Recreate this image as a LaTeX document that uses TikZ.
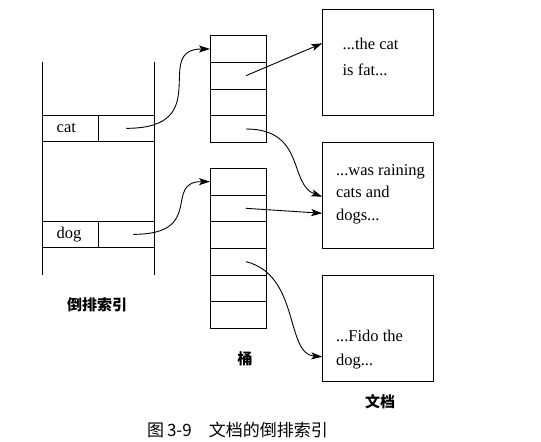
\documentclass[tikz,border=0pt]{standalone}
\usepackage{fontspec}
\setmainfont{Liberation Serif}
\newfontfamily\cjk{Noto Sans CJK SC}
\usetikzlibrary{arrows.meta,positioning}

\begin{document}
\begin{tikzpicture}[x=1bp,y=-1bp,>={Stealth[length=11bp,width=7bp,inset=2.5bp]},line width=0.9bp,
    cell/.style={draw,minimum width=56bp,minimum height=26.67bp,inner sep=0pt,outer sep=0pt},
    keycell/.style={draw,minimum width=55.6bp,minimum height=26.67bp,text width=27.6bp,
      inner xsep=14bp,inner ysep=0pt,outer sep=0pt,align=left,text height=8bp,text depth=0pt,
      font=\fontsize{16.5bp}{19bp}\selectfont},
    doc/.style={draw,minimum width=111bp,minimum height=106bp,inner sep=0pt,outer sep=0pt},
    doctext/.style={anchor=base west,inner sep=0pt,align=left},
    cjklabel/.style={font=\cjk\bfseries\fontsize{15bp}{15bp}\selectfont,inner sep=0pt}]
  \useasboundingbox (0,0) rectangle (541,442);

  % inverted index
  \draw (42.7,61.7) -- (42.7,275);
  \draw (154.3,61.7) -- (154.3,275);
  \node[keycell] (cat) at (70.5,128.35) {cat};
  \node[cell,right=0pt of cat] (catptr) {};
  \node[keycell] (dog) at (70.5,234.35) {dog};
  \node[cell,right=0pt of dog] (dogptr) {};

  % buckets
  \node[cell] (b1c1) at (238,49) {};
  \foreach \i [count=\j from 2] in {1,2,3}
    \node[cell,below=0pt of b1c\i] (b1c\j) {};
  \node[cell] (b2c1) at (238,181.65) {};
  \foreach \i [count=\j from 2] in {1,...,5}
    \node[cell,below=0pt of b2c\i] (b2c\j) {};

  % documents
  \node[doc] (doc1) at (377.8,62.2) {};
  \node[doc] (doc2) at (377.8,195) {};
  \node[doc] (doc3) at (377.8,328.5) {};
  \node[doctext,font=\fontsize{16.5bp}{26bp}\selectfont] (text1) at (342.2,75.4) {...the cat\\is fat...};
  \node[doctext,font=\fontsize{16.5bp}{22.5bp}\selectfont] (text2) at (335.6,220.4) {...was raining\\cats and\\dogs...};
  \node[doctext,font=\fontsize{16.5bp}{23.7bp}\selectfont] (text3) at (335.6,365.4) {...Fido the\\dog...};

  % labels
  \node[cjklabel] (indexlabel) at (97,305) {倒排索引};
  \node[cjklabel] (bucketlabel) at (245,358.3) {桶};
  \node[cjklabel] (doclabel) at (380,401.5) {文档};
  \node[font=\cjk\fontsize{17bp}{17bp}\selectfont,inner sep=0pt] (caption) at (237.5,430) {图\,3-9\hspace{1em}文档的倒排索引};

  % pointers
  \draw[->] (catptr.center) to[out=0,in=180,out looseness=2,in looseness=1.3] (b1c1.west);
  \draw[->] ([xshift=7bp]dogptr.center) to[out=0,in=180,out looseness=2,in looseness=1.3] (b2c1.west);
  \draw[->] ([xshift=8bp]b1c2.center) -- ([yshift=18.9bp]doc1.west);
  \draw[->] ([xshift=8bp]b1c4.center) to[out=0,in=160,out looseness=1.5,in looseness=0.9] ([yshift=-1.7bp]doc2.west);
  \draw[->] ([xshift=8bp]b2c2.center) -- ([yshift=-18.3bp]doc2.west);
  \draw[->] ([xshift=8bp]b2c4.center) to[out=-14,in=176,out looseness=1.17,in looseness=0.78] ([yshift=-28.2bp]doc3.west);
\end{tikzpicture}
\end{document}
